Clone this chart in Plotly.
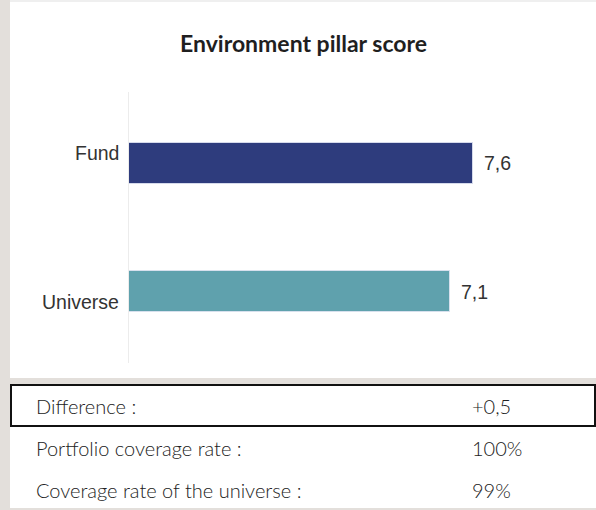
import plotly.graph_objects as go

W, H = 596, 510

title = "Environment pillar score"
categories = ["Fund", "Universe"]
scores = [7.6, 7.1]
bar_colors = ["#2e3c7d", "#5fa1ad"]
label_shift = [10, -10]

table_labels = ["Difference :", "Portfolio coverage rate :", "Coverage rate of the universe :"]
table_values = ["+0,5", "100%", "99%"]


def fmt(v):
    return f"{v:.1f}".replace(".", ",")


def px(x):
    return x / W


def py(y):
    return 1 - y / H


fig = go.Figure()
fig.add_trace(go.Bar(
    x=scores, y=categories, orientation="h",
    marker=dict(color=bar_colors, line=dict(color="rgba(220,225,240,0.9)", width=1)),
    width=0.32, hoverinfo="skip", showlegend=False,
))

annotations = []
annotations.append(dict(
    text=f"<b>{title}</b>", x=px(303), y=py(43), xref="paper", yref="paper",
    xanchor="center", yanchor="middle", showarrow=False,
    font=dict(family="Lato", size=23, color="#1f1f1f"),
))
for c, v, s in zip(categories, scores, label_shift):
    annotations.append(dict(
        text=c, x=px(121), y=c, xref="paper", yref="y", xanchor="right",
        yanchor="middle", yshift=s, showarrow=False,
        font=dict(family="Liberation Sans, Arial", size=19.5, color="#333333"),
    ))
    annotations.append(dict(
        text=fmt(v), x=v, y=c, xref="x", yref="y", xanchor="left",
        yanchor="middle", xshift=9, showarrow=False,
        font=dict(family="Liberation Sans, Arial", size=19.5, color="#333333"),
    ))

row_y = [406, 448, 490]
for lab, val, ry in zip(table_labels, table_values, row_y):
    annotations.append(dict(
        text=lab, x=px(34), y=py(ry), xref="paper", yref="paper",
        xanchor="left", yanchor="middle", showarrow=False,
        font=dict(family="Lato", size=20, color="#222222", weight=300),
    ))
    annotations.append(dict(
        text=val, x=px(470), y=py(ry), xref="paper", yref="paper",
        xanchor="left", yanchor="middle", showarrow=False,
        font=dict(family="Lato", size=20, color="#222222", weight=300),
    ))

grey = "#e3dfdb"
shapes = [
    dict(type="rect", xref="paper", yref="paper", x0=0, x1=px(10), y0=0, y1=1,
         fillcolor=grey, line=dict(width=0), layer="below"),
    dict(type="rect", xref="paper", yref="paper", x0=px(10), x1=1, y0=py(2), y1=1,
         fillcolor="#efefef", line=dict(width=0), layer="below"),
    dict(type="rect", xref="paper", yref="paper", x0=px(10), x1=1, y0=py(385), y1=py(378),
         fillcolor=grey, line=dict(width=0), layer="below"),
    dict(type="rect", xref="paper", yref="paper", x0=px(10), x1=1, y0=0, y1=py(508),
         fillcolor=grey, line=dict(width=0), layer="below"),
    dict(type="rect", xref="paper", yref="paper", x0=px(11), x1=px(595), y0=py(426), y1=py(385),
         fillcolor="rgba(0,0,0,0)", line=dict(color="#111111", width=2)),
]

fig.update_layout(
    width=W, height=H, margin=dict(l=0, r=0, t=0, b=0),
    paper_bgcolor="white", plot_bgcolor="white",
    xaxis=dict(domain=[px(129), px(581)], range=[0, 10], visible=False, fixedrange=True),
    yaxis=dict(domain=[py(363), py(92)], range=[1.555, -0.555], showticklabels=False,
               showgrid=False, zeroline=False, showline=True, linecolor="#ececec",
               linewidth=1, ticks="", fixedrange=True),
    annotations=annotations, shapes=shapes, bargap=0,
)

fig.write_html(
    "out.html",
    config={"displayModeBar": False},
    post_script="document.body.style.margin='0';document.body.style.overflow='hidden';",
)
